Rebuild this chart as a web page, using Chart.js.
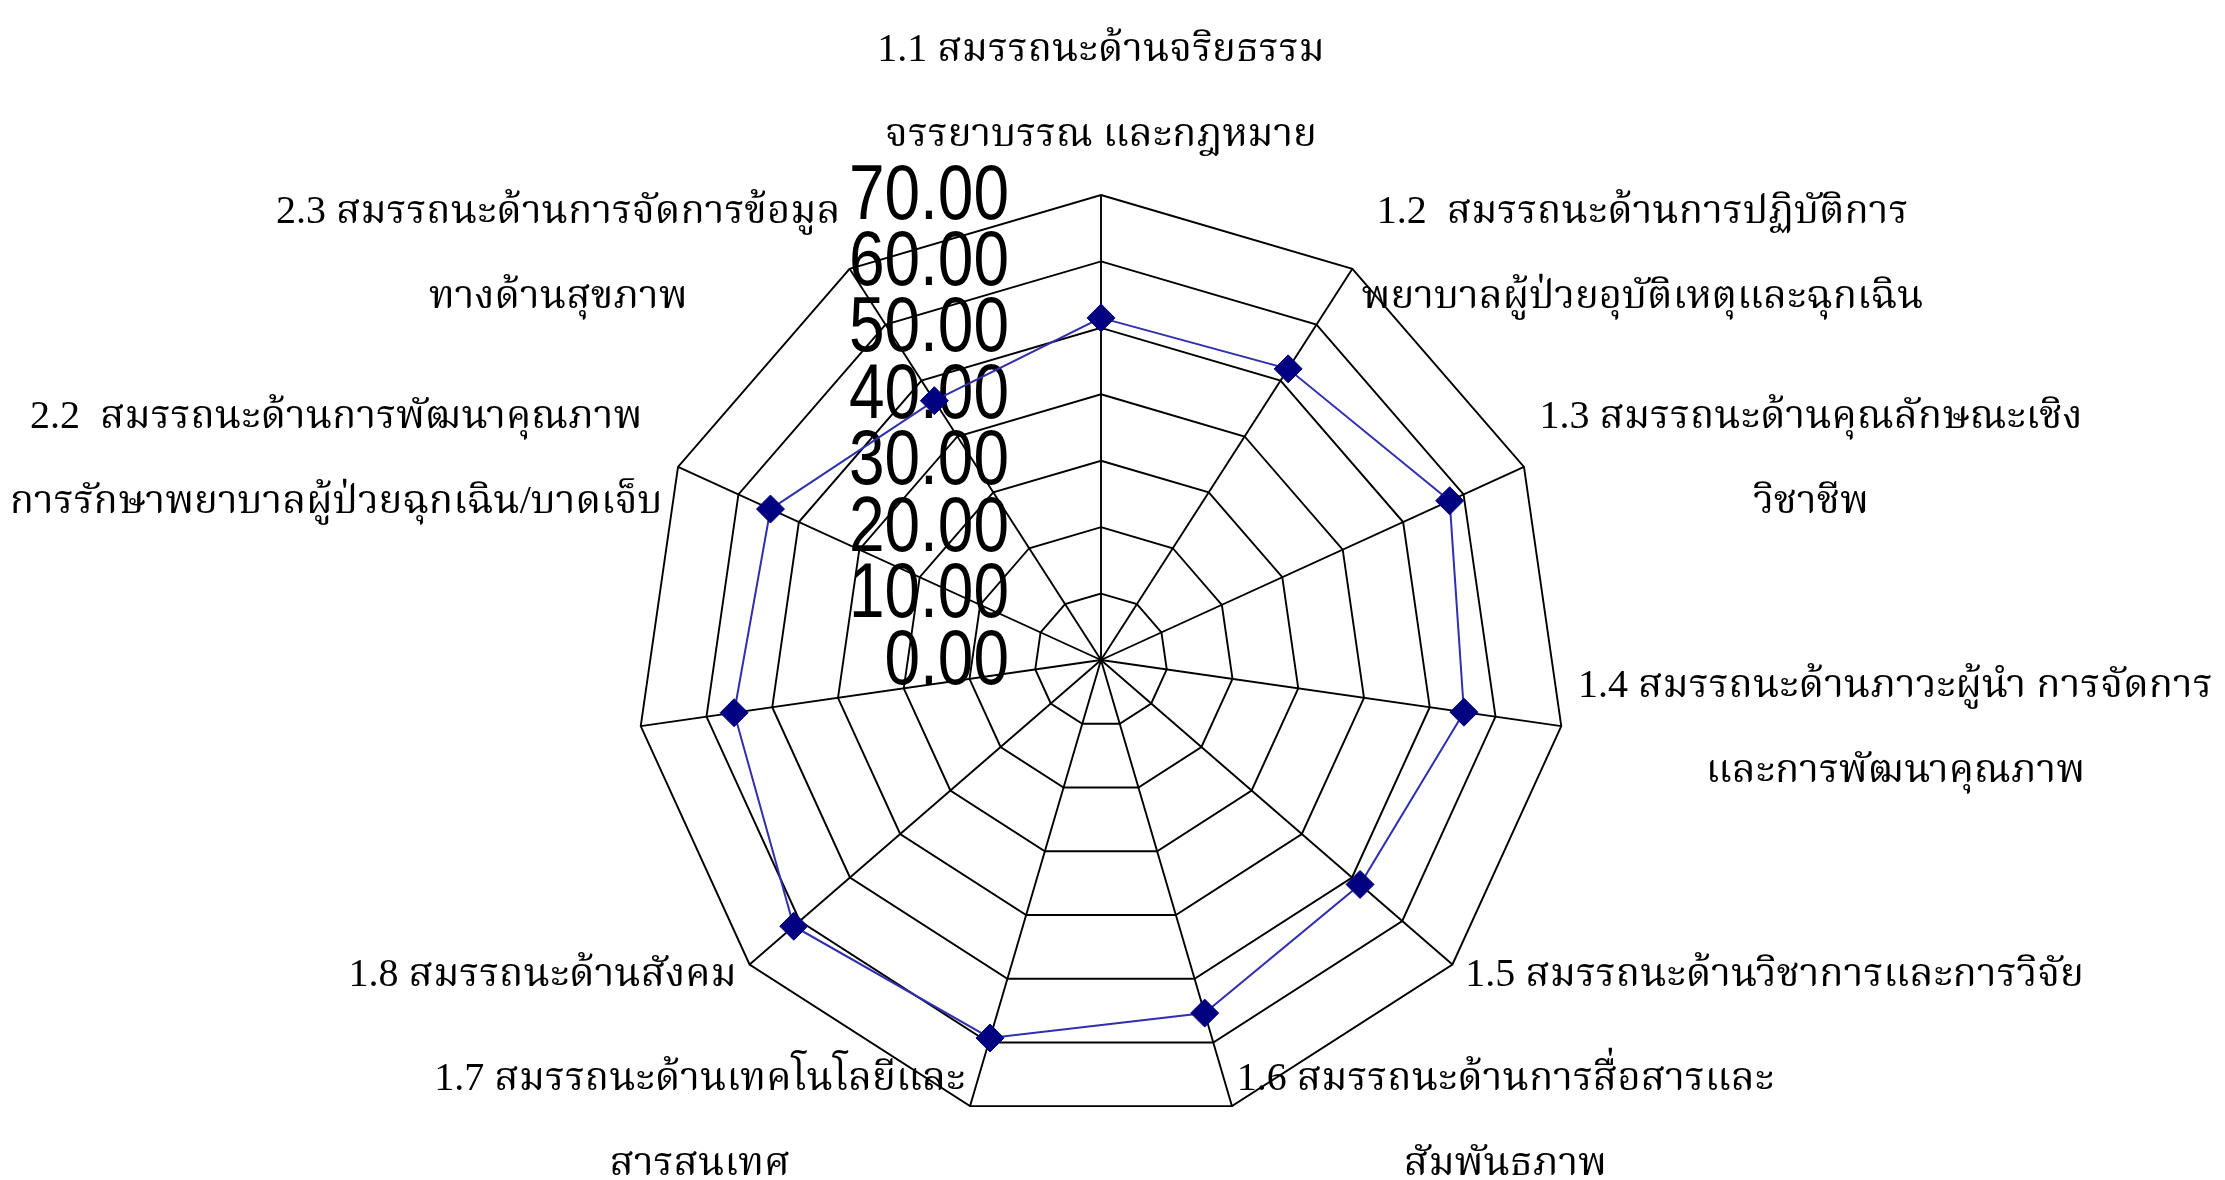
<!DOCTYPE html>
<html>
<head>
<meta charset="utf-8">
<script src="https://cdn.jsdelivr.net/npm/chart.js@4.4.1/dist/chart.umd.min.js"></script>
<style>
  html, body { margin: 0; padding: 0; background: #ffffff; }
  #chart { display: block; }
</style>
</head>
<body>
<canvas id="chart" width="2225" height="1180"></canvas>
<script>
const categories = [
    ['1.1 สมรรถนะด้านจริยธรรม', 'จรรยาบรรณ และกฎหมาย'],
    ['1.2  สมรรถนะด้านการปฏิบัติการ', 'พยาบาลผู้ป่วยอุบัติเหตุและฉุกเฉิน'],
    ['1.3 สมรรถนะด้านคุณลักษณะเชิง', 'วิชาชีพ'],
    ['1.4 สมรรถนะด้านภาวะผู้นำ การจัดการ', 'และการพัฒนาคุณภาพ'],
    ['1.5 สมรรถนะด้านวิชาการและการวิจัย'],
    ['1.6 สมรรถนะด้านการสื่อสารและ', 'สัมพันธภาพ'],
    ['1.7 สมรรถนะด้านเทคโนโลยีและ', 'สารสนเทศ'],
    ['1.8 สมรรถนะด้านสังคม'],
    [''],
    ['2.2  สมรรถนะด้านการพัฒนาคุณภาพ', 'การรักษาพยาบาลผู้ป่วยฉุกเฉิน/บาดเจ็บ'],
    ['2.3 สมรรถนะด้านการจัดการข้อมูล', 'ทางด้านสุขภาพ']
];

const scores = [51.5, 52.1, 57.7, 55.2, 51.6, 55.4, 59.3, 61.2, 55.8, 54.7, 46.4];

const tickValues = [0, 10, 20, 30, 40, 50, 60, 70];
const tickLabels = ['0.00', '10.00', '20.00', '30.00', '40.00', '50.00', '60.00', '70.00'];

const labelFont = '40px "Liberation Serif", "Noto Serif Thai", "Noto Sans Thai", serif';
const labelLineHeight = 85;

// tick numbers sit left of the vertical axis (narrow), point labels are centred blocks
const axisText = {
    id: 'axisText',
    beforeDatasetsDraw(chart) {
        const r = chart.scales.r;
        const ctx = chart.ctx;
        ctx.save();
        ctx.fillStyle = '#000000';

        const squeeze = 0.82;
        ctx.save();
        ctx.translate(r.xCenter - 92, 0);
        ctx.scale(squeeze, 1);
        ctx.font = '78px "Liberation Sans", Arial, sans-serif';
        ctx.textAlign = 'right';
        ctx.textBaseline = 'middle';
        tickValues.forEach((v, i) => {
            const y = r.yCenter - r.getDistanceFromCenterForValue(v);
            ctx.fillText(tickLabels[i], 0, y + 2);
        });
        ctx.restore();

        ctx.font = labelFont;
        ctx.textAlign = 'center';
        ctx.textBaseline = 'middle';
        categories.forEach((lines, i) => {
            const p = r.getPointPosition(i, r.drawingArea + 17);
            const w = Math.max(...lines.map(t => ctx.measureText(t).width));
            const h = lines.length * labelLineHeight;
            let left;
            if (Math.abs(p.x - r.xCenter) < 1) left = p.x - w / 2;
            else if (p.x > r.xCenter) left = p.x;
            else left = p.x - w;
            let midY = p.y;
            if (i === 0) midY = p.y - h / 2;
            lines.forEach((t, j) => {
                const y = midY + (j - (lines.length - 1) / 2) * labelLineHeight;
                ctx.fillText(t, left + w / 2, y);
            });
        });
        ctx.restore();
    }
};

new Chart(document.getElementById('chart').getContext('2d'), {
    type: 'radar',
    data: {
        labels: categories,
        datasets: [{
            data: scores,
            borderColor: '#2f2fb0',
            borderWidth: 2,
            backgroundColor: 'rgba(0,0,0,0)',
            fill: false,
            pointStyle: 'rectRot',
            pointRadius: 14,
            pointBorderWidth: 1,
            pointBackgroundColor: '#000080',
            pointBorderColor: '#000080',
            tension: 0
        }]
    },
    options: {
        responsive: false,
        animation: false,
        layout: {
            padding: { top: 195, bottom: 55, left: 0, right: 23 }
        },
        plugins: {
            legend: { display: false },
            tooltip: { enabled: false }
        },
        scales: {
            r: {
                min: 0,
                max: 70,
                ticks: { stepSize: 10, display: false },
                grid: { color: '#000000', lineWidth: 1.9, circular: false },
                angleLines: { color: '#000000', lineWidth: 1.9 },
                pointLabels: { display: false }
            }
        }
    },
    plugins: [axisText]
});
</script>
</body>
</html>
